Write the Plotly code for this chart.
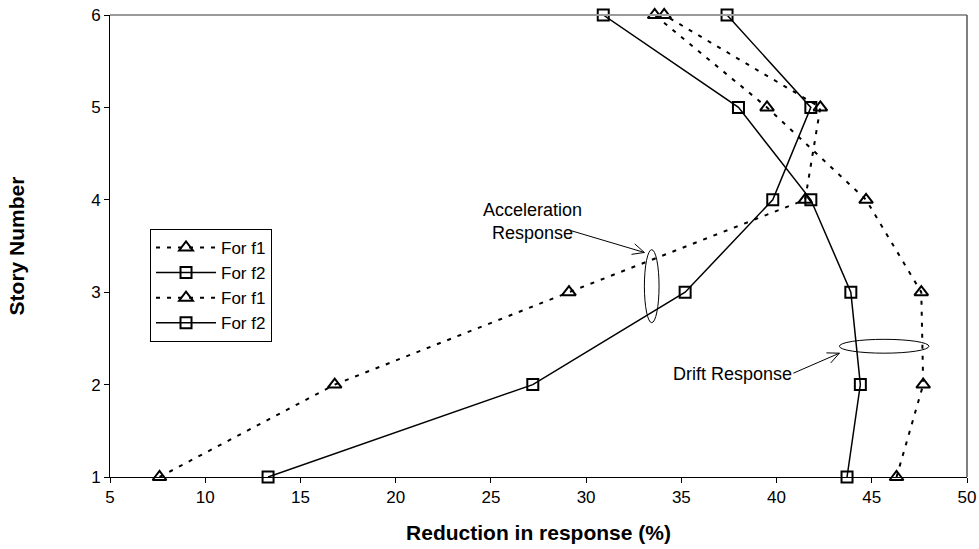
import math
import plotly.graph_objects as go

stories = [1, 2, 3, 4, 5, 6]

# Acceleration response
acc_f1 = [7.6, 16.8, 29.1, 41.5, 42.3, 34.1]
acc_f2 = [13.3, 27.2, 35.2, 39.8, 41.8, 37.4]
# Drift response
drift_f1 = [46.3, 47.7, 47.6, 44.7, 39.5, 33.6]
drift_f2 = [43.7, 44.4, 43.9, 41.8, 38.0, 30.9]

x_ticks = [5, 10, 15, 20, 25, 30, 35, 40, 45, 50]
y_ticks = [1, 2, 3, 4, 5, 6]

FONT = "Liberation Sans, Arial, sans-serif"

tri = dict(symbol="triangle-up-open", size=12, color="black", line=dict(width=2, color="black"))
sq = dict(symbol="square-open", size=11, color="black", line=dict(width=2, color="black"))
dash_line = dict(color="black", width=2, dash="4px,7px")
solid_line = dict(color="black", width=1.5)

fig = go.Figure()
series = [
    (acc_f1, "For f1", dash_line, tri),
    (acc_f2, "For f2", solid_line, sq),
    (drift_f1, "For f1", dash_line, tri),
    (drift_f2, "For f2", solid_line, sq),
]
for xs, name, ln, mk in series:
    fig.add_trace(go.Scatter(x=xs, y=stories, mode="lines+markers", name=name,
                             line=ln, marker=mk, cliponaxis=False))

# ellipses
fig.add_shape(type="circle", xref="x", yref="y", x0=33.06, x1=33.83, y0=2.67, y1=3.46,
              line=dict(color="black", width=1))
fig.add_shape(type="circle", xref="x", yref="y", x0=43.3, x1=48.0, y0=2.34, y1=2.49,
              line=dict(color="black", width=1))
# top and right grey border
fig.add_shape(type="line", xref="paper", yref="paper", x0=0, x1=1, y0=1, y1=1,
              line=dict(color="#9a9a9a", width=2))
fig.add_shape(type="line", xref="paper", yref="paper", x0=1, x1=1, y0=0, y1=1,
              line=dict(color="#555555", width=1.5))


def arrow_path(tdx, tdy, arm=13, ang=25):
    """Arrow drawn in pixels relative to its head; (tdx, tdy) is the tail offset (y up)."""
    L = math.hypot(tdx, tdy)
    ux, uy = tdx / L, tdy / L
    pts = []
    for s in (1, -1):
        a = math.radians(ang * s)
        pts.append((arm * (ux * math.cos(a) - uy * math.sin(a)),
                    arm * (ux * math.sin(a) + uy * math.cos(a))))
    return (f"M {tdx:.1f},{tdy:.1f} L 0,0 M {pts[0][0]:.1f},{pts[0][1]:.1f} L 0,0 "
            f"L {pts[1][0]:.1f},{pts[1][1]:.1f}")


fig.add_shape(type="path", xref="x", yref="y", xsizemode="pixel", ysizemode="pixel",
              xanchor=33.06, yanchor=3.43, path=arrow_path(-74, 22),
              line=dict(color="black", width=1))
fig.add_shape(type="path", xref="x", yref="y", xsizemode="pixel", ysizemode="pixel",
              xanchor=43.3, yanchor=2.34, path=arrow_path(-46, -20),
              line=dict(color="black", width=1))

# annotation texts
fig.add_annotation(x=27.16, y=3.76, xref="x", yref="y", text="Acceleration<br>Response",
                   showarrow=False, font=dict(family=FONT, size=18, color="black"))
fig.add_annotation(x=37.7, y=2.11, xref="x", yref="y", text="Drift Response",
                   showarrow=False, font=dict(family=FONT, size=18, color="black"))

fig.update_layout(
    width=979, height=549,
    margin=dict(l=110, r=12, t=15, b=72, autoexpand=False),
    paper_bgcolor="white", plot_bgcolor="white",
    font=dict(family=FONT, size=17, color="black"),
    showlegend=True,
    legend=dict(x=0.0467, y=0.537, xanchor="left", yanchor="top",
                bgcolor="white", bordercolor="black", borderwidth=1,
                font=dict(family=FONT, size=17, color="black"),
                tracegroupgap=0, itemwidth=60),
    xaxis=dict(range=[5, 50], tickvals=x_ticks, ticks="outside", ticklen=5,
               tickcolor="black", showline=True, linecolor="black", linewidth=1,
               showgrid=False, zeroline=False,
               tickfont=dict(family=FONT, size=17),
               title=dict(text="<b>Reduction in response (%)</b>",
                          font=dict(family=FONT, size=21), standoff=18)),
    yaxis=dict(range=[1, 6], tickvals=y_ticks, ticks="outside", ticklen=5,
               tickcolor="black", showline=True, linecolor="black", linewidth=1,
               showgrid=False, zeroline=False,
               tickfont=dict(family=FONT, size=17),
               title=dict(text="<b>Story Number</b>",
                          font=dict(family=FONT, size=21), standoff=60)),
)

fig.write_html("out.html", config={"displayModeBar": False},
               post_script="document.body.style.margin='0';document.body.style.overflow='hidden';")
